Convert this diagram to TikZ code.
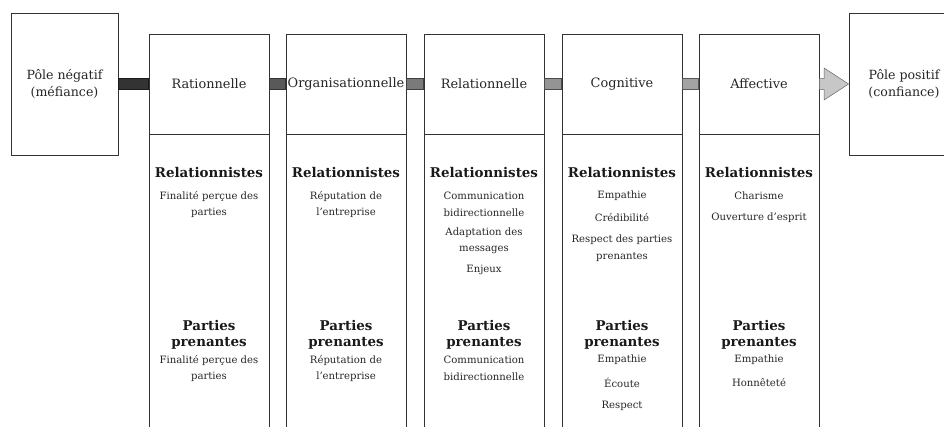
\documentclass[tikz,border=0pt]{standalone}
\usepackage{fontspec}
\setmainfont{DejaVu Serif}
\begin{document}
\begin{tikzpicture}[x=1pt,y=-1pt,
  frame/.style={draw=black!80, line width=0.8pt, fill=white, inner sep=0pt, align=center, text=black!85},
  pole/.style={frame, minimum width=107pt, minimum height=142pt, font=\fontsize{12.6}{17.5}\selectfont},
  topbox/.style={frame, minimum width=120pt, minimum height=100pt, font=\fontsize{12.9}{15}\selectfont},
  botbox/.style={frame, minimum width=120pt, minimum height=310pt, anchor=north},
  head/.style={inner sep=0pt, align=center, text=black!90, font=\bfseries\fontsize{13.4}{16.5}\selectfont},
  item/.style={inner sep=0pt, align=center, text=black!85, font=\fontsize{10.1}{16.5}\selectfont},
  bar/.style={line width=0.5pt}
]
\useasboundingbox (0,0) rectangle (944,426);

% poles
\node[pole] (neg) at (64.5,84) {Pôle négatif\\(méfiance)};
\node[pole, minimum width=110pt] (pos) at (904,84) {Pôle positif\\(confiance)};

% top boxes
\node[topbox] (t1) at (209,84) {Rationnelle};
\node[topbox] (t2) at (346,84) {Organisationnelle};
\node[topbox] (t3) at (484,84) {Relationnelle};
\node[topbox] (t4) at (622,84) {Cognitive};
\node[topbox] (t5) at (759,84) {Affective};

% bottom boxes
\foreach \i in {1,...,5} {
  \node[botbox] (b\i) at (t\i.south) {};
}

% connector bars
\fill[black!80, draw=black!90, bar] ([yshift=5.5pt]neg.east) rectangle ([yshift=-5.5pt]t1.west);
\fill[black!65, draw=black!80, bar] ([yshift=5.5pt]t1.east) rectangle ([yshift=-5.5pt]t2.west);
\fill[black!52, draw=black!75, bar] ([yshift=5.5pt]t2.east) rectangle ([yshift=-5.5pt]t3.west);
\fill[black!42, draw=black!70, bar] ([yshift=5.5pt]t3.east) rectangle ([yshift=-5.5pt]t4.west);
\fill[black!36, draw=black!65, bar] ([yshift=5.5pt]t4.east) rectangle ([yshift=-5.5pt]t5.west);
% block arrow
\coordinate (hb) at (824,84);
\filldraw[fill=black!22, draw=black!60, bar]
  ([yshift=5.5pt]t5.east) -- ([yshift=5.5pt]t5.east -| hb) -- ([yshift=16pt]hb) -- (pos.west)
  -- ([yshift=-16pt]hb) -- ([yshift=-5.5pt]t5.east -| hb) -- ([yshift=-5.5pt]t5.east) -- cycle;

% headings
\foreach \i in {1,...,5} {
  \node[head] (r\i) at (t\i |- 0,172) {Relationnistes};
  \node[head] (p\i) at (t\i |- 0,335) {Parties\\prenantes};
}

% top items
\node[item] (a1) at (t1 |- 0,204.5) {Finalité perçue des\\parties};
\node[item] (a2) at (t2 |- 0,204.5) {Réputation de\\l’entreprise};
\node[item] (a3) at (t3 |- 0,204.5) {Communication\\bidirectionnelle};
\node[item] (a3b) at (t3 |- 0,241) {Adaptation des\\messages};
\node[item] (a3c) at (t3 |- 0,270) {Enjeux};
\node[item] (a4) at (t4 |- 0,195.5) {Empathie};
\node[item] (a4b) at (t4 |- 0,218) {Crédibilité};
\node[item] (a4c) at (t4 |- 0,248) {Respect des parties\\prenantes};
\node[item] (a5) at (t5 |- 0,195.5) {Charisme};
\node[item] (a5b) at (t5 |- 0,218) {Ouverture d’esprit};

% bottom items
\node[item] (c1) at (t1 |- 0,368.5) {Finalité perçue des\\parties};
\node[item] (c2) at (t2 |- 0,368.5) {Réputation de\\l’entreprise};
\node[item] (c3) at (t3 |- 0,368.5) {Communication\\bidirectionnelle};
\node[item] (c4) at (t4 |- 0,360) {Empathie};
\node[item] (c4b) at (t4 |- 0,383) {Écoute};
\node[item] (c4c) at (t4 |- 0,406) {Respect};
\node[item] (c5) at (t5 |- 0,360) {Empathie};
\node[item] (c5b) at (t5 |- 0,383) {Honnêteté};
\end{tikzpicture}
\end{document}
